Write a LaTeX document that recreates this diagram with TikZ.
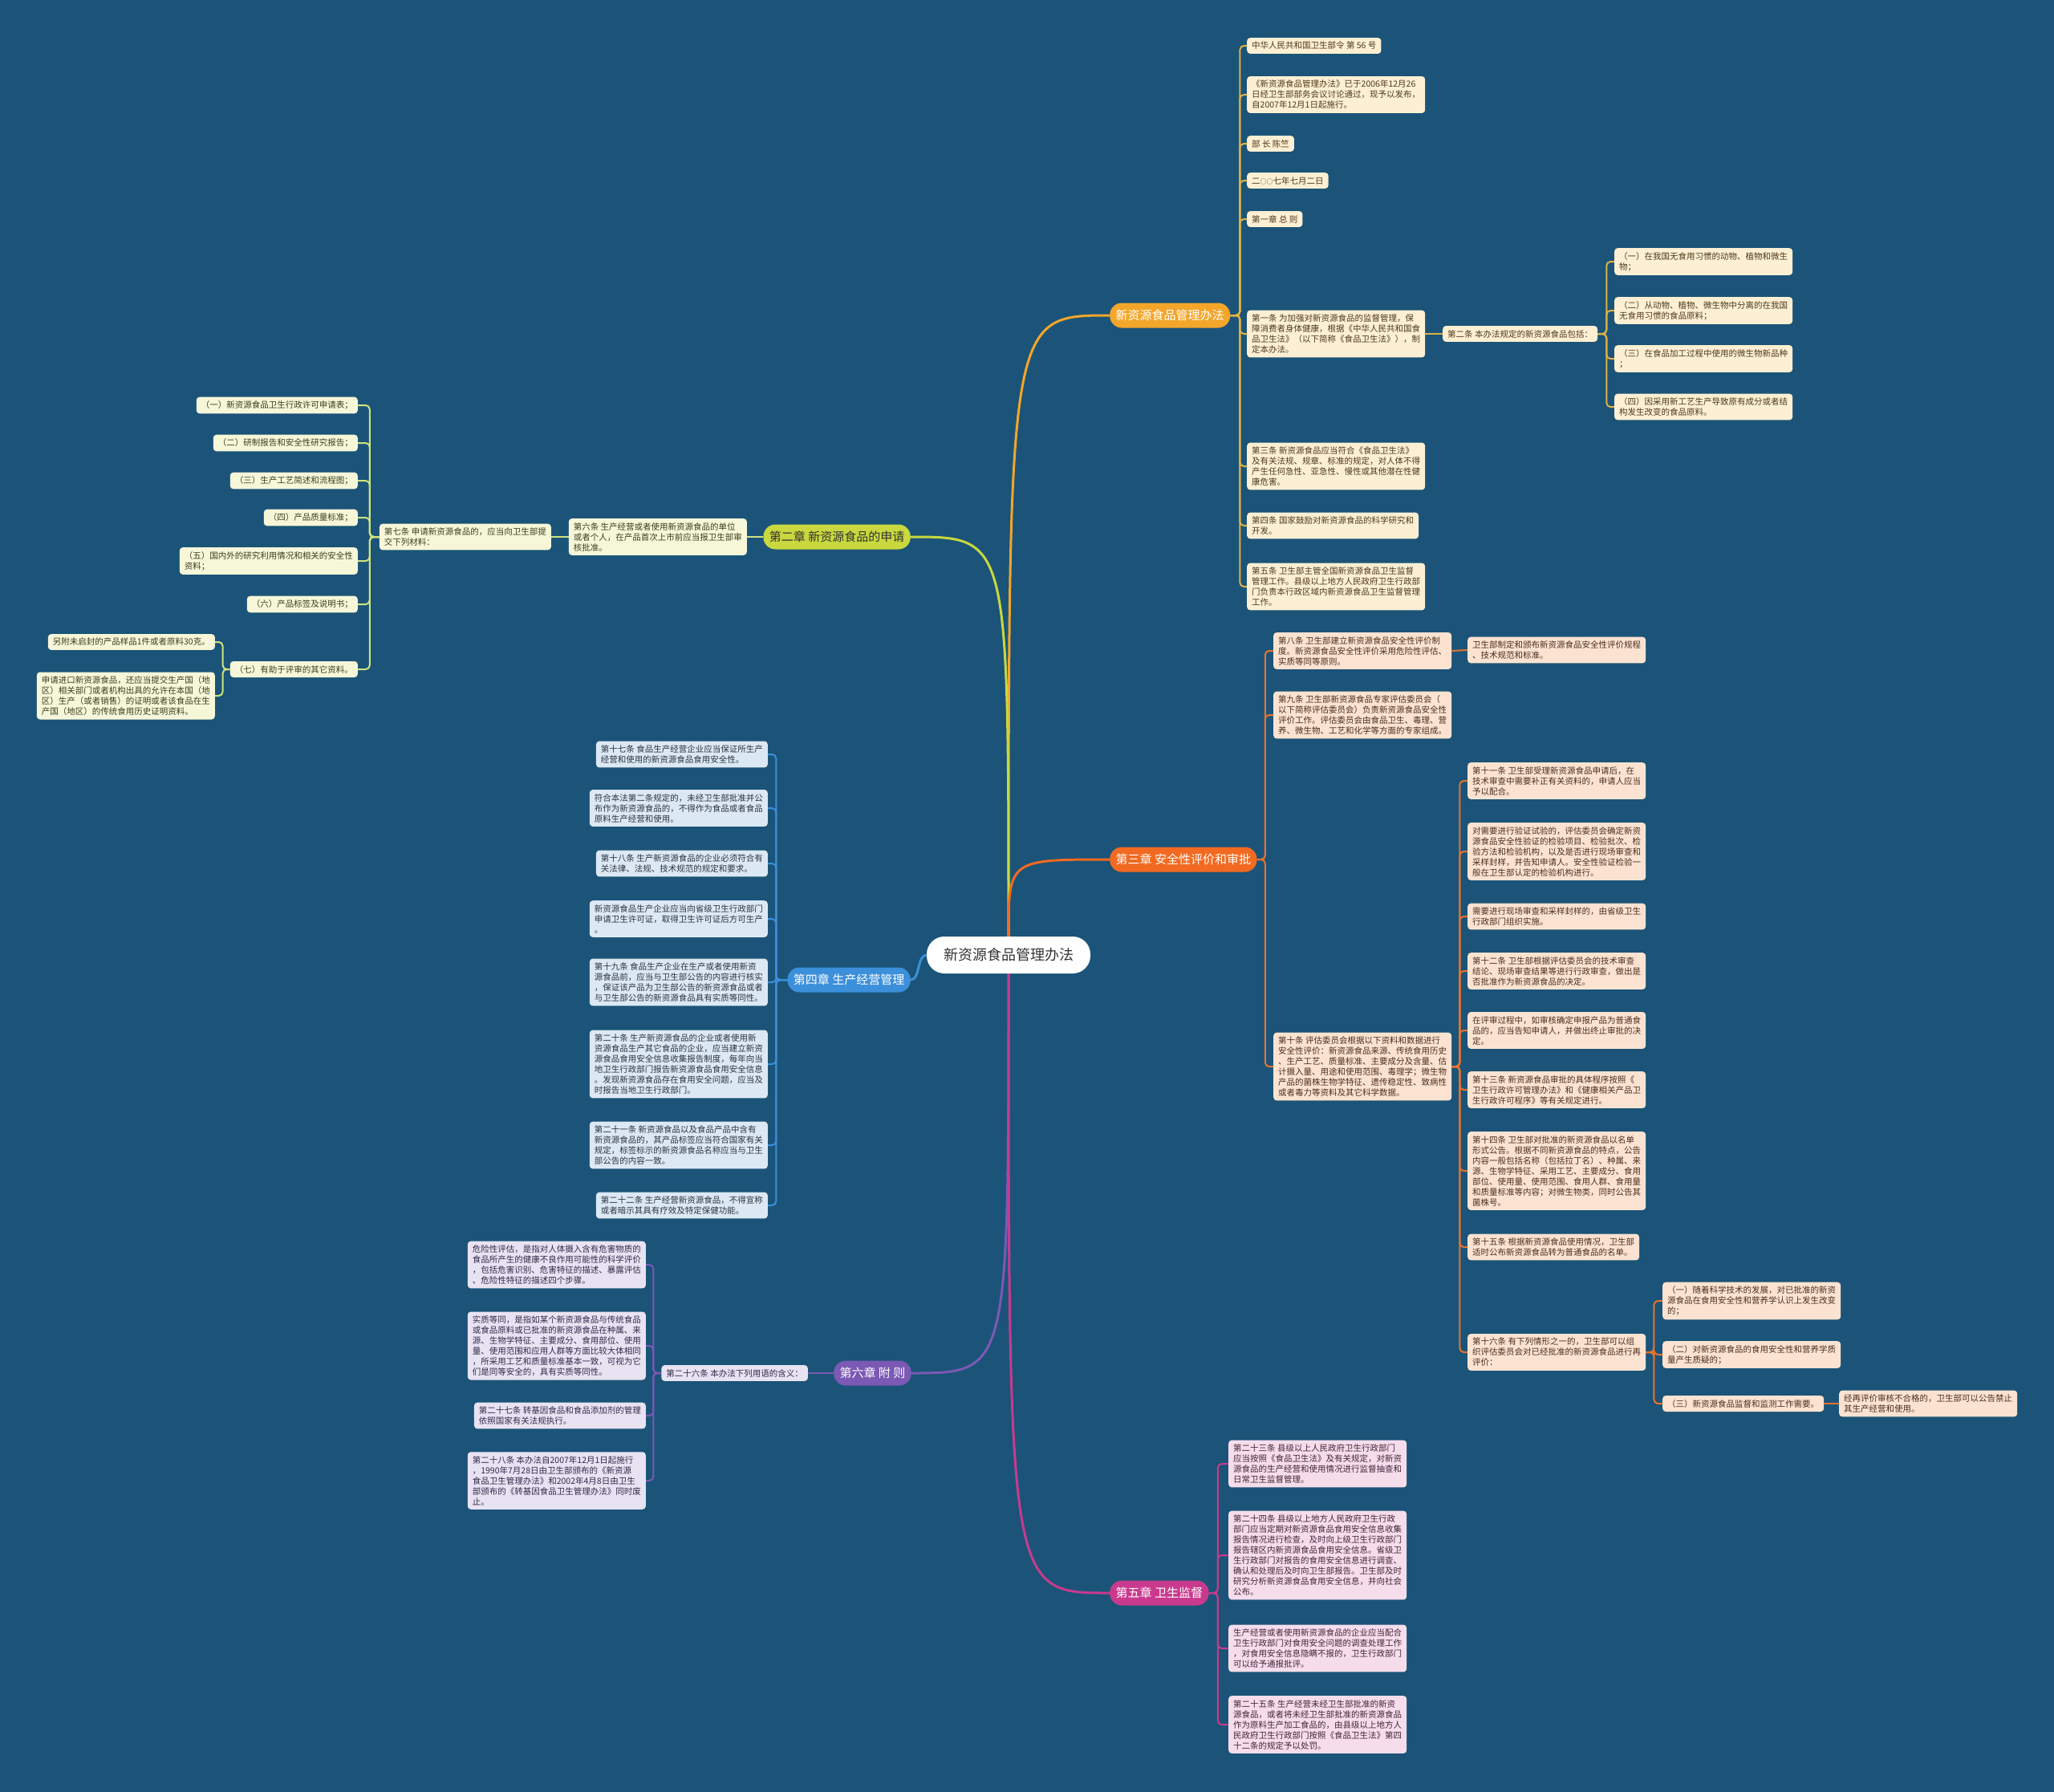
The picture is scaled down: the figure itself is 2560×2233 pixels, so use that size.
\documentclass[tikz,border=0pt]{standalone}
\usepackage{fontspec}
\setmainfont{Noto Sans CJK SC}
\usetikzlibrary{calc}
\pgfdeclarelayer{bgl}
\pgfdeclarelayer{lines}
\pgfsetlayers{bgl,lines,main}
\definecolor{bgc}{HTML}{1B5478}
\definecolor{ca}{HTML}{F4A62A}\definecolor{fa}{HTML}{FDEFD3}\definecolor{la}{HTML}{E2B044}\definecolor{ta}{HTML}{4D3A1A}
\definecolor{cb}{HTML}{C8D83E}\definecolor{fb}{HTML}{F6F6D9}\definecolor{lb}{HTML}{CFE37E}\definecolor{tb}{HTML}{3C3C1E}
\definecolor{cc}{HTML}{F26A21}\definecolor{fc}{HTML}{FCE3D1}\definecolor{lc}{HTML}{E8722E}\definecolor{tc}{HTML}{4A2E1E}
\definecolor{cd}{HTML}{3C8FDA}\definecolor{fd}{HTML}{DCE8F4}\definecolor{ld}{HTML}{3C8FDA}\definecolor{td}{HTML}{2A3440}
\definecolor{cf}{HTML}{7B59B4}\definecolor{ff}{HTML}{E8E3F2}\definecolor{lf}{HTML}{7B59B4}\definecolor{tf}{HTML}{33294A}
\definecolor{ce}{HTML}{C93A8E}\definecolor{fe}{HTML}{F6DDEB}\definecolor{le}{HTML}{C93A8E}\definecolor{te}{HTML}{45233A}
\newcommand\leaffont{\fontsize{10.5}{13}\selectfont}
\newcommand\rlink[4]{\draw[lk, draw=#1] (#2.east) -- ++(#3,0) |- (#4.west);}
\newcommand\llink[4]{\draw[lk, draw=#1] (#2.west) -- ++(-#3,0) |- (#4.east);}
\begin{document}
\begin{tikzpicture}[x=1pt,y=-1pt,
  leaf/.style={rounded corners=4pt, inner xsep=6pt, inner ysep=5pt, align=left, font=\leaffont},
  nA/.style={leaf, fill=fa, text=ta},
  nB/.style={leaf, fill=fb, text=tb},
  nC/.style={leaf, fill=fc, text=tc},
  nD/.style={leaf, fill=fd, text=td},
  nF/.style={leaf, fill=ff, text=tf},
  nE/.style={leaf, fill=fe, text=te},
  br/.style={rounded corners=15pt, minimum height=31pt, inner xsep=7.5pt, inner ysep=4pt, font=\fontsize{15}{18}\selectfont, text=white},
  lk/.style={line width=2pt, rounded corners=5pt},
  mn/.style={line width=3pt}]
\begin{pgfonlayer}{bgl}
\fill[bgc] (0,0) rectangle (2560,2233);
\end{pgfonlayer}
\useasboundingbox (0,0) rectangle (2560,2233);

% center
\node[fill=white, rounded corners=22pt, minimum height=46pt, inner xsep=21pt, font=\fontsize{18}{22}\selectfont, text=black!80] (c) at (1257,1190) {新资源食品管理办法};

% branches
\node[br, fill=ca, anchor=west] (b1) at (1383,393) {新资源食品管理办法};
\node[br, fill=cb, anchor=east, text=black!80] (b2) at (1135,669) {第二章 新资源食品的申请};
\node[br, fill=cc, anchor=west] (b3) at (1383,1071) {第三章 安全性评价和审批};
\node[br, fill=cd, anchor=east] (b4) at (1135,1221) {第四章 生产经营管理};
\node[br, fill=cf, anchor=east] (b6) at (1136,1711) {第六章 附 则};
\node[br, fill=ce, anchor=west] (b5) at (1383,1985) {第五章 卫生监督};

% branch 1 leaves
\node[nA, anchor=west] (t1) at (1554,57) {中华人民共和国卫生部令 第 56 号};
\node[nA, anchor=west] (t2) at (1554,118) {《新资源食品管理办法》已于2006年12月26\\日经卫生部部务会议讨论通过，现予以发布，\\自2007年12月1日起施行。};
\node[nA, anchor=west] (t3) at (1554,179) {部 长 陈竺};
\node[nA, anchor=west] (t4) at (1554,225) {二{\fontsize{8}{13}\selectfont ○○}七年七月二日};
\node[nA, anchor=west] (t5) at (1554,273) {第一章 总 则};
\node[nA, anchor=west] (t6) at (1554,416) {第一条 为加强对新资源食品的监督管理，保\\障消费者身体健康，根据《中华人民共和国食\\品卫生法》（以下简称《食品卫生法》），制\\定本办法。};
\node[nA, anchor=west] (t7) at (1554,581) {第三条 新资源食品应当符合《食品卫生法》\\及有关法规、规章、标准的规定，对人体不得\\产生任何急性、亚急性、慢性或其他潜在性健\\康危害。};
\node[nA, anchor=west] (t8) at (1554,655) {第四条 国家鼓励对新资源食品的科学研究和\\开发。};
\node[nA, anchor=west] (t9) at (1554,731) {第五条 卫生部主管全国新资源食品卫生监督\\管理工作。县级以上地方人民政府卫生行政部\\门负责本行政区域内新资源食品卫生监督管理\\工作。};
\node[nA, anchor=west] (a2) at (1798,416) {第二条 本办法规定的新资源食品包括：};
\node[nA, anchor=west] (s1) at (2012,326) {（一）在我国无食用习惯的动物、植物和微生\\物；};
\node[nA, anchor=west] (s2) at (2012,387) {（二）从动物、植物、微生物中分离的在我国\\无食用习惯的食品原料；};
\node[nA, anchor=west] (s3) at (2012,447) {（三）在食品加工过程中使用的微生物新品种\\；};
\node[nA, anchor=west] (s4) at (2012,507) {（四）因采用新工艺生产导致原有成分或者结\\构发生改变的食品原料。};

% branch 2 leaves
\node[nB, anchor=east] (g6) at (931,669) {第六条 生产经营或者使用新资源食品的单位\\或者个人，在产品首次上市前应当报卫生部审\\核批准。};
\node[nB, anchor=east] (g7) at (687,669) {第七条 申请新资源食品的，应当向卫生部提\\交下列材料：};
\node[nB, anchor=east] (m1) at (446,505) {（一）新资源食品卫生行政许可申请表；};
\node[nB, anchor=east] (m2) at (446,552) {（二）研制报告和安全性研究报告；};
\node[nB, anchor=east] (m3) at (446,599) {（三）生产工艺简述和流程图；};
\node[nB, anchor=east] (m4) at (446,645) {（四）产品质量标准；};
\node[nB, anchor=east] (m5) at (446,699) {（五）国内外的研究利用情况和相关的安全性\\资料；};
\node[nB, anchor=east] (m6) at (446,753) {（六）产品标签及说明书；};
\node[nB, anchor=east] (m7) at (446,834) {（七）有助于评审的其它资料。};
\node[nB, anchor=east] (n1) at (268,800) {另附未启封的产品样品1件或者原料30克。};
\node[nB, anchor=east] (n2) at (268,867) {申请进口新资源食品，还应当提交生产国（地\\区）相关部门或者机构出具的允许在本国（地\\区）生产（或者销售）的证明或者该食品在生\\产国（地区）的传统食用历史证明资料。};

% branch 3 leaves
\node[nC, anchor=west] (r8) at (1587,811) {第八条 卫生部建立新资源食品安全性评价制\\度。新资源食品安全性评价采用危险性评估、\\实质等同等原则。};
\node[nC, anchor=west] (r8a) at (1829,810) {卫生部制定和颁布新资源食品安全性评价规程\\、技术规范和标准。};
\node[nC, anchor=west] (r9) at (1587,891) {第九条 卫生部新资源食品专家评估委员会（\\以下简称评估委员会）负责新资源食品安全性\\评价工作。评估委员会由食品卫生、毒理、营\\养、微生物、工艺和化学等方面的专家组成。};
\node[nC, anchor=west] (r10) at (1587,1329) {第十条 评估委员会根据以下资料和数据进行\\安全性评价：新资源食品来源、传统食用历史\\、生产工艺、质量标准、主要成分及含量、估\\计摄入量、用途和使用范围、毒理学；微生物\\产品的菌株生物学特征、遗传稳定性、致病性\\或者毒力等资料及其它科学数据。};
\node[nC, anchor=west] (q1) at (1829,973) {第十一条 卫生部受理新资源食品申请后，在\\技术审查中需要补正有关资料的，申请人应当\\予以配合。};
\node[nC, anchor=west] (q2) at (1829,1061) {对需要进行验证试验的，评估委员会确定新资\\源食品安全性验证的检验项目、检验批次、检\\验方法和检验机构，以及是否进行现场审查和\\采样封样，并告知申请人。安全性验证检验一\\般在卫生部认定的检验机构进行。};
\node[nC, anchor=west] (q3) at (1829,1142) {需要进行现场审查和采样封样的，由省级卫生\\行政部门组织实施。};
\node[nC, anchor=west] (q4) at (1829,1210) {第十二条 卫生部根据评估委员会的技术审查\\结论、现场审查结果等进行行政审查，做出是\\否批准作为新资源食品的决定。};
\node[nC, anchor=west] (q5) at (1829,1284) {在评审过程中，如审核确定申报产品为普通食\\品的，应当告知申请人，并做出终止审批的决\\定。};
\node[nC, anchor=west] (q6) at (1829,1358) {第十三条 新资源食品审批的具体程序按照《\\卫生行政许可管理办法》和《健康相关产品卫\\生行政许可程序》等有关规定进行。};
\node[nC, anchor=west] (q7) at (1829,1459) {第十四条 卫生部对批准的新资源食品以名单\\形式公告。根据不同新资源食品的特点，公告\\内容一般包括名称（包括拉丁名）、种属、来\\源、生物学特征、采用工艺、主要成分、食用\\部位、使用量、使用范围、食用人群、食用量\\和质量标准等内容；对微生物类，同时公告其\\菌株号。};
\node[nC, anchor=west] (q8) at (1829,1554) {第十五条 根据新资源食品使用情况，卫生部\\适时公布新资源食品转为普通食品的名单。};
\node[nC, anchor=west] (q9) at (1829,1685) {第十六条 有下列情形之一的，卫生部可以组\\织评估委员会对已经批准的新资源食品进行再\\评价：};
\node[nC, anchor=west] (p1) at (2072,1621) {（一）随着科学技术的发展，对已批准的新资\\源食品在食用安全性和营养学认识上发生改变\\的；};
\node[nC, anchor=west] (p2) at (2072,1688) {（二）对新资源食品的食用安全性和营养学质\\量产生质疑的；};
\node[nC, anchor=west] (p3) at (2072,1749) {（三）新资源食品监督和监测工作需要。};
\node[nC, anchor=west] (p4) at (2292,1749) {经再评价审核不合格的，卫生部可以公告禁止\\其生产经营和使用。};

% branch 4 leaves
\node[nD, anchor=east] (d1) at (957,940) {第十七条 食品生产经营企业应当保证所生产\\经营和使用的新资源食品食用安全性。};
\node[nD, anchor=east] (d2) at (957,1007) {符合本法第二条规定的，未经卫生部批准并公\\布作为新资源食品的，不得作为食品或者食品\\原料生产经营和使用。};
\node[nD, anchor=east] (d3) at (957,1076) {第十八条 生产新资源食品的企业必须符合有\\关法律、法规、技术规范的规定和要求。};
\node[nD, anchor=east] (d4) at (957,1145) {新资源食品生产企业应当向省级卫生行政部门\\申请卫生许可证，取得卫生许可证后方可生产\\。};
\node[nD, anchor=east] (d5) at (957,1224) {第十九条 食品生产企业在生产或者使用新资\\源食品前，应当与卫生部公告的内容进行核实\\，保证该产品为卫生部公告的新资源食品或者\\与卫生部公告的新资源食品具有实质等同性。};
\node[nD, anchor=east] (d6) at (957,1326) {第二十条 生产新资源食品的企业或者使用新\\资源食品生产其它食品的企业，应当建立新资\\源食品食用安全信息收集报告制度，每年向当\\地卫生行政部门报告新资源食品食用安全信息\\。发现新资源食品存在食用安全问题，应当及\\时报告当地卫生行政部门。};
\node[nD, anchor=east] (d7) at (957,1427) {第二十一条 新资源食品以及食品产品中含有\\新资源食品的，其产品标签应当符合国家有关\\规定，标签标示的新资源食品名称应当与卫生\\部公告的内容一致。};
\node[nD, anchor=east] (d8) at (957,1502) {第二十二条 生产经营新资源食品，不得宣称\\或者暗示其具有疗效及特定保健功能。};

% branch 6 leaves
\node[nF, anchor=east] (f0) at (1007,1711) {第二十六条 本办法下列用语的含义：};
\node[nF, anchor=east] (f1) at (805,1576) {危险性评估，是指对人体摄入含有危害物质的\\食品所产生的健康不良作用可能性的科学评价\\，包括危害识别、危害特征的描述、暴露评估\\、危险性特征的描述四个步骤。};
\node[nF, anchor=east] (f2) at (805,1677) {实质等同，是指如某个新资源食品与传统食品\\或食品原料或已批准的新资源食品在种属、来\\源、生物学特征、主要成分、食用部位、使用\\量、使用范围和应用人群等方面比较大体相同\\，所采用工艺和质量标准基本一致，可视为它\\们是同等安全的，具有实质等同性。};
\node[nF, anchor=east] (f3) at (805,1764) {第二十七条 转基因食品和食品添加剂的管理\\依照国家有关法规执行。};
\node[nF, anchor=east] (f4) at (805,1845) {第二十八条 本办法自2007年12月1日起施行\\，1990年7月28日由卫生部颁布的《新资源\\食品卫生管理办法》和2002年4月8日由卫生\\部颁布的《转基因食品卫生管理办法》同时废\\止。};

% branch 5 leaves
\node[nE, anchor=west] (e1) at (1531,1824) {第二十三条 县级以上人民政府卫生行政部门\\应当按照《食品卫生法》及有关规定，对新资\\源食品的生产经营和使用情况进行监督抽查和\\日常卫生监督管理。};
\node[nE, anchor=west] (e2) at (1531,1938) {第二十四条 县级以上地方人民政府卫生行政\\部门应当定期对新资源食品食用安全信息收集\\报告情况进行检查，及时向上级卫生行政部门\\报告辖区内新资源食品食用安全信息。省级卫\\生行政部门对报告的食用安全信息进行调查、\\确认和处理后及时向卫生部报告。卫生部及时\\研究分析新资源食品食用安全信息，并向社会\\公布。};
\node[nE, anchor=west] (e3) at (1531,2054) {生产经营或者使用新资源食品的企业应当配合\\卫生行政部门对食用安全问题的调查处理工作\\，对食用安全信息隐瞒不报的，卫生行政部门\\可以给予通报批评。};
\node[nE, anchor=west] (e4) at (1531,2149) {第二十五条 生产经营未经卫生部批准的新资\\源食品，或者将未经卫生部批准的新资源食品\\作为原料生产加工食品的，由县级以上地方人\\民政府卫生行政部门按照《食品卫生法》第四\\十二条的规定予以处罚。};

\begin{pgfonlayer}{lines}
% main curves
\draw[mn, draw=ca] (c.north) .. controls (c.north |- b1.west) .. (b1.west);
\draw[mn, draw=cb] (c.north) .. controls (c.north |- b2.east) .. (b2.east);
\draw[mn, draw=cc] (c.north) .. controls (c.north |- b3.west) .. (b3.west);
\draw[mn, draw=cd] (c.west) .. controls ($(c.west)+(-12,0)$) and ($(b4.east)+(12,0)$) .. (b4.east);
\draw[mn, draw=cf] (c.south) .. controls (c.south |- b6.east) .. (b6.east);
\draw[mn, draw=ce] (c.south) .. controls (c.south |- b5.west) .. (b5.west);
% branch 1
\foreach \n in {t1,t2,t3,t4,t5,t6,t7,t8,t9} {\rlink{la}{b1}{12}{\n}}
\draw[lk, draw=la] (t6.east) -- (a2.west);
\foreach \n in {s1,s2,s3,s4} {\rlink{la}{a2}{11}{\n}}
% branch 2
\draw[lk, draw=lb] (b2.west) -- (g6.east);
\draw[lk, draw=lb] (g6.west) -- (g7.east);
\foreach \n in {m1,m2,m3,m4,m5,m6,m7} {\llink{lb}{g7}{12}{\n}}
\foreach \n in {n1,n2} {\llink{lb}{m7}{9}{\n}}
% branch 3
\foreach \n in {r8,r9,r10} {\rlink{lc}{b3}{10}{\n}}
\draw[lk, draw=lc] (r8.east) -- (r8a.west);
\foreach \n in {q1,q2,q3,q4,q5,q6,q7,q8,q9} {\rlink{lc}{r10}{10}{\n}}
\foreach \n in {p1,p2,p3} {\rlink{lc}{q9}{10}{\n}}
\draw[lk, draw=lc] (p3.east) -- (p4.west);
% branch 4
\foreach \n in {d1,d2,d3,d4,d5,d6,d7,d8} {\llink{ld}{b4}{14}{\n}}
% branch 6
\draw[lk, draw=lf] (b6.west) -- (f0.east);
\foreach \n in {f1,f2,f3,f4} {\llink{lf}{f0}{10}{\n}}
% branch 5
\foreach \n in {e1,e2,e3,e4} {\rlink{le}{b5}{11}{\n}}
\end{pgfonlayer}
\end{tikzpicture}
\end{document}
